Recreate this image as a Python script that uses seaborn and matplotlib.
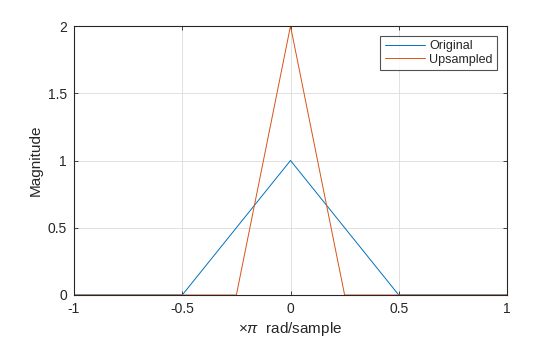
import matplotlib
matplotlib.use("Agg")
import matplotlib.pyplot as plt
import seaborn as sns
import pandas as pd

# Normalized frequency (x pi rad/sample) and magnitude of each spectrum
orig_freq = [-1.0, -0.5, 0.0, 0.5, 1.0]
orig_mag = [0.0, 0.0, 1.0, 0.0, 0.0]
up_freq = [-1.0, -0.25, 0.0, 0.25, 1.0]
up_mag = [0.0, 0.0, 2.0, 0.0, 0.0]

x_ticks = [-1, -0.5, 0, 0.5, 1]
x_tick_labels = ["-1", "-0.5", "0", "0.5", "1"]
y_ticks = [0, 0.5, 1, 1.5, 2]
y_tick_labels = ["0", "0.5", "1", "1.5", "2"]

df = pd.concat([
    pd.DataFrame({"freq": orig_freq, "mag": orig_mag, "signal": "Original"}),
    pd.DataFrame({"freq": up_freq, "mag": up_mag, "signal": "Upsampled"}),
])

sns.set_theme(style="white")
plt.rcParams["font.family"] = ["Liberation Sans", "DejaVu Sans"]
plt.rcParams["mathtext.fontset"] = "custom"
plt.rcParams["mathtext.rm"] = "Liberation Sans"
plt.rcParams["mathtext.it"] = "Liberation Sans:italic"

dark = "#262626"
fig = plt.figure(figsize=(5.6, 3.37), dpi=100)
ax = fig.add_axes([74 / 560, 1 - 295 / 337, (507 - 74) / 560, (295 - 26) / 337])

sns.lineplot(data=df, x="freq", y="mag", hue="signal",
             palette={"Original": "#0072BD", "Upsampled": "#D95319"},
             linewidth=0.7, ax=ax, sort=False, estimator=None)

ax.set_xlim(-1, 1)
ax.set_ylim(0, 2)
ax.set_xticks(x_ticks)
ax.set_xticklabels(x_tick_labels)
ax.set_yticks(y_ticks)
ax.set_yticklabels(y_tick_labels)
ax.grid(True, color="#dcdcdc", linewidth=0.6)
ax.set_axisbelow(True)
for s in ax.spines.values():
    s.set_color(dark)
    s.set_linewidth(0.8)
    s.set_visible(True)
ax.tick_params(direction="in", length=3, width=0.6, colors=dark,
               labelsize=10, labelcolor=dark, pad=5,
               top=True, right=True, bottom=True, left=True)

ax.set_xlabel(r"$\times\mathit{\pi}$  rad/sample", fontsize=11, color=dark, labelpad=3)
ax.set_ylabel("Magnitude", fontsize=11, color=dark, labelpad=4)

leg = ax.legend(title=None, loc="upper right",
                bbox_to_anchor=(1 - 10 / 433, 1 - 10 / 269),
                fontsize=9, frameon=True, fancybox=False, edgecolor=dark,
                borderpad=0.35, handlelength=3.2, handletextpad=0.35,
                labelspacing=0.1, borderaxespad=0.0)
leg.get_frame().set_linewidth(0.8)

fig.savefig("out.png", dpi=100)
